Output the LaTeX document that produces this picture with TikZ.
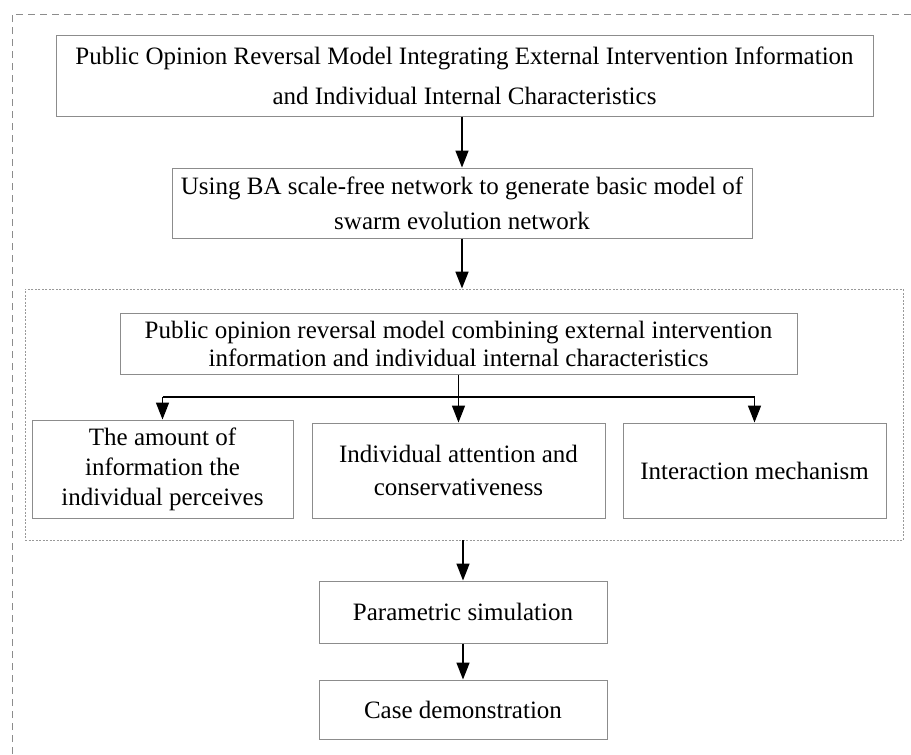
\documentclass[tikz,border=0pt]{standalone}
\usepackage{fontspec}
\setmainfont{Liberation Serif}
\usetikzlibrary{arrows.meta}
\begin{document}
\begin{tikzpicture}[x=1pt,y=-1pt,
  box/.style={draw=black!45, line width=1pt, rectangle, align=center, inner sep=0pt},
  arr/.style={draw=black, line width=1.7pt, -{Triangle[length=17pt,width=13pt]}},
  ln/.style={draw=black, line width=1.7pt}
]
\useasboundingbox (0,0) rectangle (911,755);
% outer dashed frame (partly outside the picture)
\draw[black!45, line width=0.8pt, dash pattern=on 7pt off 5pt] (12,790) -- (12,14) -- (940,14);
% inner dotted frame
\node[draw=black!40, line width=0.9pt, dash pattern=on 2pt off 1.5pt, minimum width=878pt, minimum height=251pt, inner sep=0pt] (frame) at (464,414.5) {};
\node[box, minimum width=817pt, minimum height=81pt, font=\fontsize{25}{40}\selectfont] (b1) at (464.5,75.5)
  {Public Opinion Reversal Model Integrating External Intervention Information\\and Individual Internal Characteristics};
\node[box, minimum width=580pt, minimum height=70pt, font=\fontsize{25}{35}\selectfont] (b2) at (462,203)
  {Using BA scale-free network to generate basic model of\\swarm evolution network};
\node[box, minimum width=677pt, minimum height=61pt, font=\fontsize{25}{28}\selectfont] (b3) at (458.5,343.5)
  {Public opinion reversal model combining external intervention\\information and individual internal characteristics};
\node[box, minimum width=261pt, minimum height=98pt, font=\fontsize{25}{30}\selectfont] (b4a) at (162.5,469)
  {\rule{0pt}{0pt}The amount of\\information the\\individual perceives};
\node[box, minimum width=293pt, minimum height=95pt, font=\fontsize{25}{33}\selectfont] (b4b) at (458.5,470.5)
  {Individual attention and\\conservativeness};
\node[box, minimum width=263pt, minimum height=95pt, font=\fontsize{25}{30}\selectfont] (b4c) at (754.5,470.5)
  {Interaction mechanism};
\node[box, minimum width=288pt, minimum height=62pt, font=\fontsize{25}{30}\selectfont] (b5) at (463,612)
  {Parametric simulation};
\node[box, minimum width=288pt, minimum height=59pt, font=\fontsize{25}{30}\selectfont] (b6) at (463,709.5)
  {Case demonstration};
% connectors
\draw[arr] (b2.north |- b1.south) -- (b2.north);
\draw[arr] (b2.south) -- (b2.south |- frame.north);
\coordinate (j) at (458.5,397);
\draw[ln] (b3.south) -- (j);
\draw[ln] (b4a.north |- j) -- (b4c.north |- j);
\draw[arr] (b4a.north |- j) -- (b4a.north);
\draw[arr] (j) -- (b4b.north);
\draw[arr] (b4c.north |- j) -- (b4c.north);
\draw[arr] (b5.north |- frame.south) -- (b5.north);
\draw[arr] (b5.south) -- (b6.north);
\end{tikzpicture}
\end{document}
